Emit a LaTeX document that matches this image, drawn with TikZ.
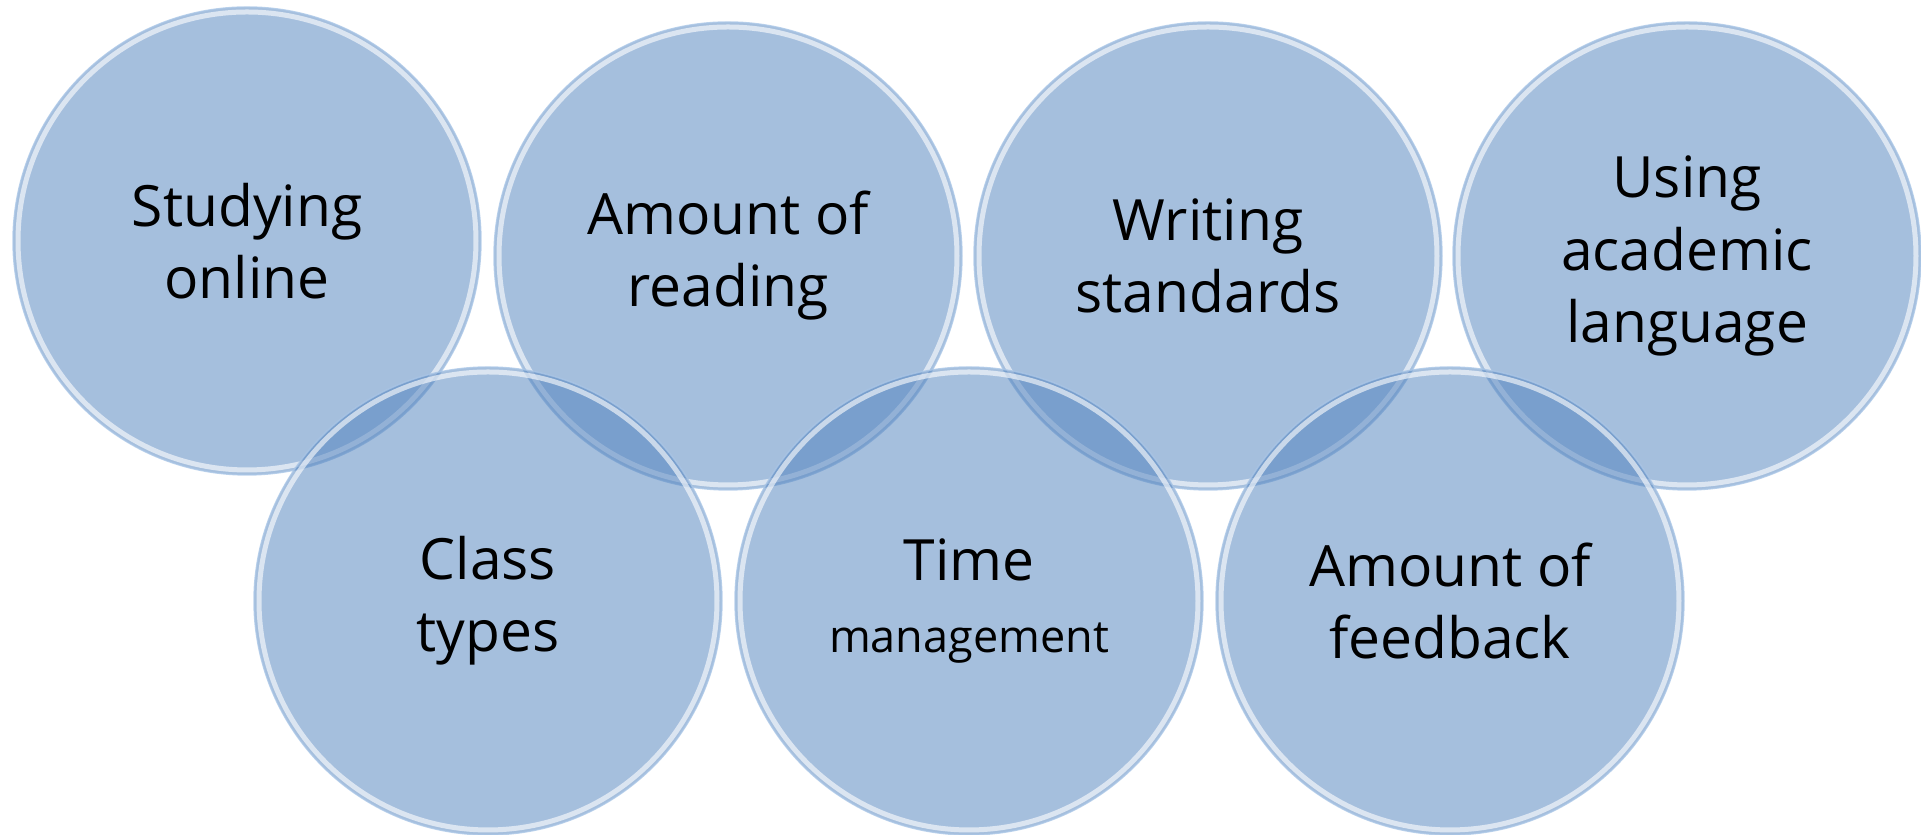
\documentclass[tikz,border=0pt]{standalone}
\usepackage{fontspec}
\usepackage{tikz}
\setmainfont{Open Sans}
\definecolor{mbubble}{RGB}{79,129,189}
\definecolor{medge}{RGB}{170,198,230}

\tikzset{
  bubble/.style={circle, minimum size=4.68cm, inner sep=0pt, align=center,
    fill=mbubble, fill opacity=0.51, text opacity=1,
    draw=medge, draw opacity=0.8, line width=0.4pt,
    font=\fontsize{16.2}{20.5}\selectfont,
    path picture={\draw [white, line width=0.05cm, opacity=0.6]
      (path picture bounding box.center) circle (2.29cm);}}
}

\begin{document}
\begin{tikzpicture}
    \useasboundingbox (0, 0) rectangle (19.21, 8.35);

    % top row
    \node [bubble] (studying) at (2.47, 5.94) {Studying\\online};
    \node [bubble] (reading) at (7.28, 5.79) {Amount of\\reading};
    \node [bubble] (writing) at (12.08, 5.79) {Writing\\standards};
    \node [bubble] (academic) at (16.87, 5.79) {Using\\academic\\language};

    % bottom row
    \node [bubble] (classtypes) at (4.88, 2.34) {Class\\types};
    \node [bubble] (timemgmt) at (9.69, 2.34) {Time\\{\fontsize{12.8}{17.6}\selectfont management}};
    \node [bubble] (feedback) at (14.50, 2.34) {Amount of\\feedback};
\end{tikzpicture}
\end{document}
